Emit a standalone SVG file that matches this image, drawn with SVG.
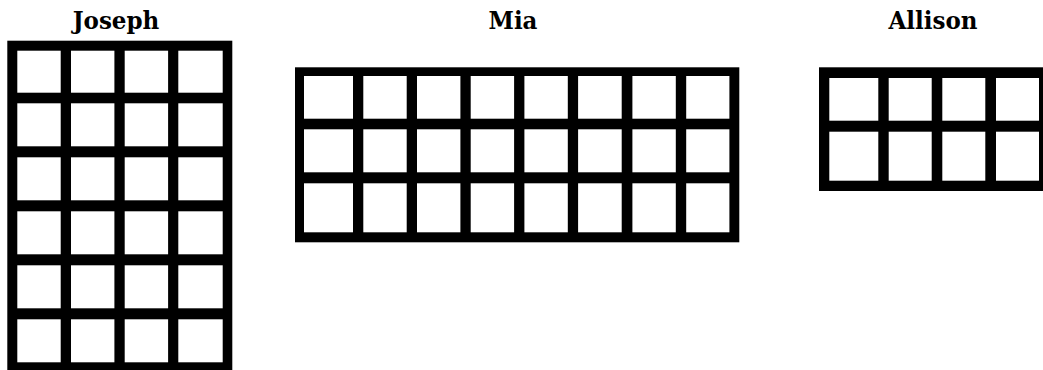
<svg xmlns="http://www.w3.org/2000/svg" width="1043" height="370" viewBox="0 0 1043 370">
<style>
.t{font-family:"DejaVu Serif","Liberation Serif",serif;font-weight:bold;font-size:23.5px;fill:#000;text-anchor:middle}
.f{fill:#000}
.c{fill:#fff}
</style>
<rect width="1043" height="370" fill="#fff"/>
<g id="joseph">
<text class="t" x="116" y="29.3" textLength="86.7" lengthAdjust="spacingAndGlyphs">Joseph</text>
<rect class="f" x="7.3" y="40.7" width="225" height="335"/>
<g class="c">
<rect x="17.3" y="50.7" width="43.4" height="42"/><rect x="71" y="50.7" width="43.4" height="42"/><rect x="124.7" y="50.7" width="43.4" height="42"/><rect x="178.3" y="50.7" width="44.4" height="42"/>
<rect x="17.3" y="103.3" width="43.4" height="43"/><rect x="71" y="103.3" width="43.4" height="43"/><rect x="124.7" y="103.3" width="43.4" height="43"/><rect x="178.3" y="103.3" width="44.4" height="43"/>
<rect x="17.3" y="157.3" width="43.4" height="43"/><rect x="71" y="157.3" width="43.4" height="43"/><rect x="124.7" y="157.3" width="43.4" height="43"/><rect x="178.3" y="157.3" width="44.4" height="43"/>
<rect x="17.3" y="211.3" width="43.4" height="43"/><rect x="71" y="211.3" width="43.4" height="43"/><rect x="124.7" y="211.3" width="43.4" height="43"/><rect x="178.3" y="211.3" width="44.4" height="43"/>
<rect x="17.3" y="265.3" width="43.4" height="43"/><rect x="71" y="265.3" width="43.4" height="43"/><rect x="124.7" y="265.3" width="43.4" height="43"/><rect x="178.3" y="265.3" width="44.4" height="43"/>
<rect x="17.3" y="319.3" width="43.4" height="43"/><rect x="71" y="319.3" width="43.4" height="43"/><rect x="124.7" y="319.3" width="43.4" height="43"/><rect x="178.3" y="319.3" width="44.4" height="43"/>
</g>
</g>
<g id="mia">
<text class="t" x="513" y="29.3" textLength="49" lengthAdjust="spacingAndGlyphs">Mia</text>
<rect class="f" x="295" y="67.3" width="444.3" height="175"/>
<g class="c">
<rect x="304" y="76" width="49" height="42.7"/><rect x="363.3" y="76" width="43.4" height="42.7"/><rect x="417" y="76" width="43.4" height="42.7"/><rect x="470.7" y="76" width="43.4" height="42.7"/><rect x="524.4" y="76" width="43.4" height="42.7"/><rect x="578.1" y="76" width="43.6" height="42.7"/><rect x="632.4" y="76" width="43.4" height="42.7"/><rect x="686.2" y="76" width="43.2" height="42.7"/>
<rect x="304" y="129.3" width="49" height="43"/><rect x="363.3" y="129.3" width="43.4" height="43"/><rect x="417" y="129.3" width="43.4" height="43"/><rect x="470.7" y="129.3" width="43.4" height="43"/><rect x="524.4" y="129.3" width="43.4" height="43"/><rect x="578.1" y="129.3" width="43.6" height="43"/><rect x="632.4" y="129.3" width="43.4" height="43"/><rect x="686.2" y="129.3" width="43.2" height="43"/>
<rect x="304" y="183.3" width="49" height="49"/><rect x="363.3" y="183.3" width="43.4" height="49"/><rect x="417" y="183.3" width="43.4" height="49"/><rect x="470.7" y="183.3" width="43.4" height="49"/><rect x="524.4" y="183.3" width="43.4" height="49"/><rect x="578.1" y="183.3" width="43.6" height="49"/><rect x="632.4" y="183.3" width="43.4" height="49"/><rect x="686.2" y="183.3" width="43.2" height="49"/>
</g>
</g>
<g id="allison">
<text class="t" x="933" y="29.3" textLength="89" lengthAdjust="spacingAndGlyphs">Allison</text>
<rect class="f" x="819" y="67.3" width="240" height="123.7"/>
<g class="c">
<rect x="829.3" y="78" width="49" height="42.7"/><rect x="888.7" y="78" width="43" height="42.7"/><rect x="942.3" y="78" width="43" height="42.7"/><rect x="996" y="78" width="43" height="42.7"/>
<rect x="829.3" y="131.7" width="49" height="49"/><rect x="888.7" y="131.7" width="43" height="49"/><rect x="942.3" y="131.7" width="43" height="49"/><rect x="996" y="131.7" width="43" height="49"/>
</g>
</g>
</svg>
